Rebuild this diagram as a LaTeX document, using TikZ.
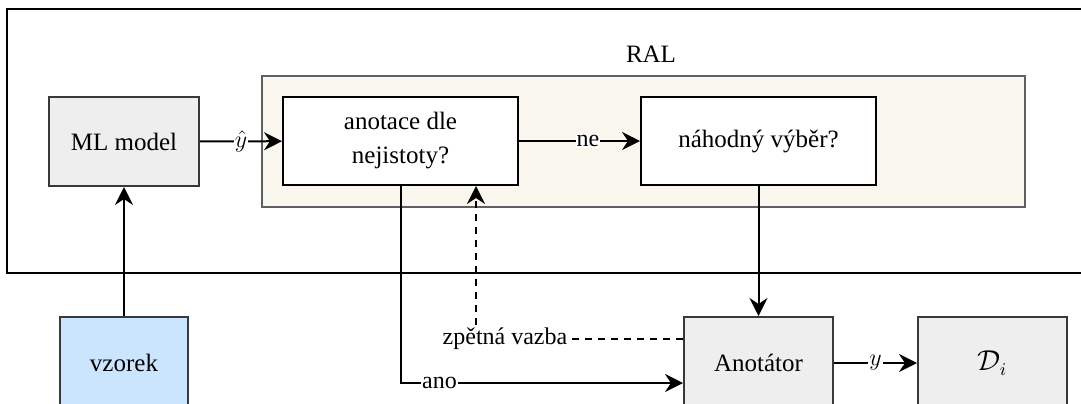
\documentclass[tikz,border=0pt]{standalone}
\usepackage{amsmath,amssymb}
\usepackage{fontspec}
\setmainfont{Liberation Serif}
\usepackage{tikz}
\usetikzlibrary{arrows.meta}

\definecolor{boxgray}{HTML}{EEEEEE}
\definecolor{boxline}{HTML}{36393D}
\definecolor{ralfill}{HTML}{F9F7ED}
\definecolor{bluefill}{HTML}{CCE5FF}

\begin{document}
\begin{tikzpicture}[x=0.5pt, y=-0.5pt, line width=1pt,
  box/.style={draw, inner sep=0pt, font=\fontsize{12.5pt}{17pt}\selectfont, align=center},
  graybox/.style={box, draw=boxline, fill=boxgray},
  arr/.style={-{Stealth[length=9pt, width=9pt, inset=3pt]}},
  lbl/.style={fill=white, inner sep=0.5pt, font=\fontsize{12pt}{14pt}\selectfont}]
\useasboundingbox (0,0) rectangle (1081,403);
\clip (0,0) rectangle (1081,403);

% outer frame and RAL container
\draw (7,9) rectangle (1100,273);
\draw[draw=boxline!80, fill=ralfill] (262,76) rectangle (1025,207);
\node[font=\fontsize{12.5pt}{15pt}\selectfont] (ral) at (651,54) {RAL};

\node[graybox, minimum width=75pt, minimum height=44.5pt] (ml) at (124,141.5) {ML model};
\node[box, fill=white, minimum width=117.5pt, minimum height=44pt] (unc) at (400.5,141) {anotace dle\\nejistoty?};
\node[box, fill=white, minimum width=117.5pt, minimum height=44pt] (rnd) at (758.5,141) {náhodný výběr?};
\node[box, draw=boxline, fill=bluefill, minimum width=64pt, minimum height=46pt] (vz) at (124,363) {vzorek};
\node[graybox, minimum width=74.5pt, minimum height=46pt] (anot) at (758.5,363) {Anotátor};
\node[graybox, minimum width=74.5pt, minimum height=46pt, font=\fontsize{13.5pt}{17pt}\selectfont] (data) at (992.5,363) {$\mathcal{D}_i$};

\draw[arr] (vz) -- (ml);
\draw[arr] (ml) -- node[lbl, font=\fontsize{13pt}{15pt}\selectfont] {$\hat{y}$} (unc);
\draw[arr] (unc) -- node[lbl, pos=0.57] {ne} (rnd);
\draw[arr] (rnd) -- (anot);
\draw[arr] (unc.south) |- node[lbl, pos=0.569] {ano} ([yshift=-10pt]anot.west);
\draw[arr, dash pattern=on 3.5pt off 3pt] ([yshift=12pt]anot.west) -| node[lbl, pos=0.43] {zpětná vazba} ([xshift=37.75pt]unc.south);
\draw[arr] (anot) -- node[lbl, font=\fontsize{13pt}{15pt}\selectfont] {$y$} (data);
\end{tikzpicture}
\end{document}
